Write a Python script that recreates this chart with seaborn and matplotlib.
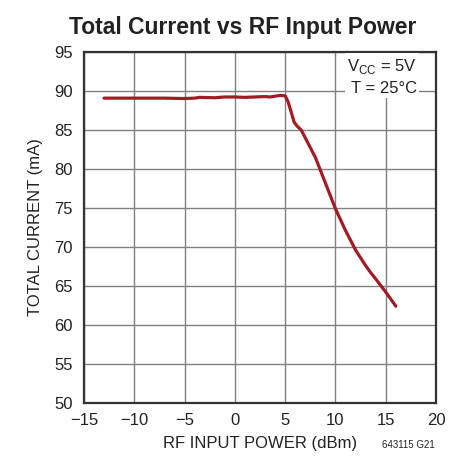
import pandas as pd
import seaborn as sns
import matplotlib.pyplot as plt

rf_power = [-13, -10, -7, -5, -4, -3.5, -2, -1, 0, 1, 2, 3, 3.5, 4, 4.5, 5, 5.3,
            5.6, 5.9, 6.2, 6.6, 7, 8, 9, 10, 11, 12, 13, 13.5, 14, 15, 16]
current = [89.1, 89.1, 89.1, 89.05, 89.1, 89.2, 89.15, 89.25, 89.25, 89.2, 89.25,
           89.3, 89.25, 89.35, 89.45, 89.4, 88.6, 87.3, 86.0, 85.5, 85.0, 84.0,
           81.5, 78.2, 74.9, 72.1, 69.6, 67.6, 66.7, 65.9, 64.2, 62.4]

df = pd.DataFrame({"power": rf_power, "current": current})

sns.set_style("white")
plt.rcParams['font.family'] = ['Liberation Sans', 'DejaVu Sans']

fig = plt.figure(figsize=(4.61, 4.70), dpi=100)
ax = fig.add_axes([0.182, 0.143, 0.764, 0.746])

sns.lineplot(data=df, x="power", y="current", color="#A31B25", linewidth=2.3, ax=ax,
             zorder=3)

ax.set_xlim(-15, 20)
ax.set_ylim(50, 95)
ax.set_xticks(range(-15, 21, 5))
ax.set_yticks(range(50, 96, 5))
ax.set_xticklabels([str(v).replace("-", "\u2212") for v in range(-15, 21, 5)])
ax.grid(True, color="#808080", linewidth=1.0)
ax.tick_params(length=0, labelsize=12, colors="#222222")
ax.tick_params(axis="x", pad=7)
ax.tick_params(axis="y", pad=8)
for s in ax.spines.values():
    s.set_color("#333333")
    s.set_linewidth(1.6)

ax.set_xlabel("RF INPUT POWER (dBm)", fontsize=12, color="#222222", labelpad=6)
ax.set_ylabel("TOTAL CURRENT (mA)", fontsize=12, color="#222222", labelpad=8)
ax.set_title("Total Current vs RF Input Power", fontsize=16.5, fontweight="bold",
             color="#222222", pad=13, x=0.45)

ax.text(0.945, 0.985, "V$_{\\mathregular{CC}}$ = 5V\nT = 25°C", transform=ax.transAxes,
        ha="right", va="top", fontsize=12, color="#222222", linespacing=1.35,
        bbox=dict(facecolor="white", edgecolor="none", pad=1.5), zorder=4)

fig.text(0.944, 0.053, "643115 G21", ha="right", va="center", fontsize=7, color="#222222")

fig.savefig("out.png", dpi=100)
